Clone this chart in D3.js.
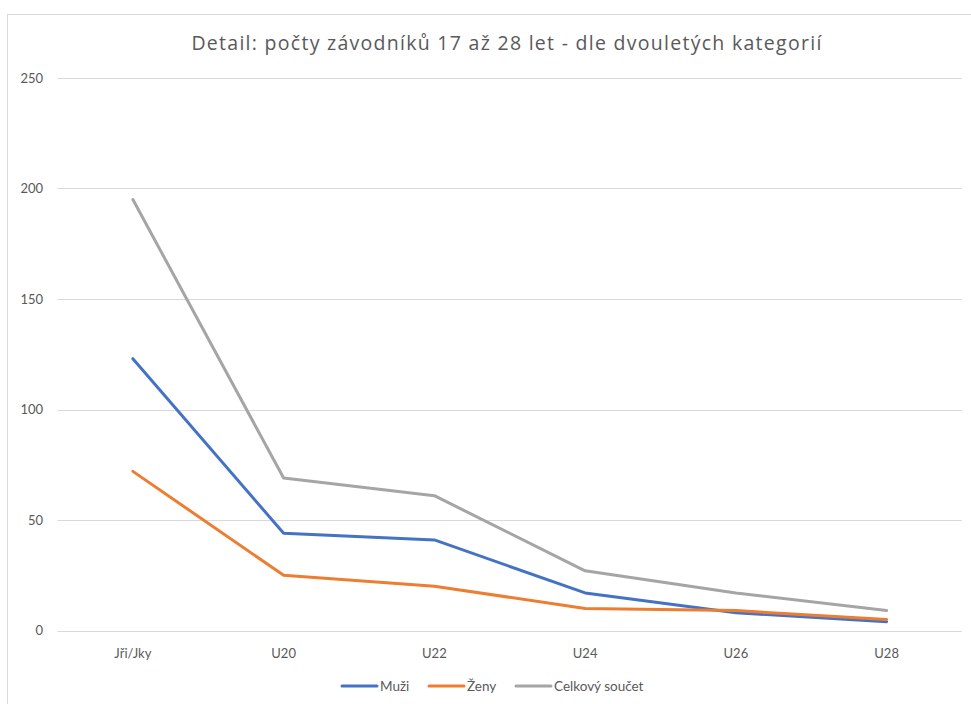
<!DOCTYPE html>
<html>
<head>
<meta charset="utf-8">
<script src="https://cdn.jsdelivr.net/npm/d3@7"></script>
<style>
  body { margin: 0; background: #fff; }
  svg { display: block; font-family: Lato, "Open Sans", "Liberation Sans", sans-serif; }
</style>
</head>
<body>
<svg id="chart" width="971" height="704"></svg>
<script>
// data
var categories = ["Jři/Jky", "U20", "U22", "U24", "U26", "U28"];
var muzi = [123, 44, 41, 17, 8, 4];
var zeny = [72, 25, 20, 10, 9, 5];
var celkem = [195, 69, 61, 27, 17, 9];
var yTicks = [0, 50, 100, 150, 200, 250];

var series = [
  { name: "Muži", values: muzi, color: "#4472C4" },
  { name: "Ženy", values: zeny, color: "#ED7D31" },
  { name: "Celkový součet", values: celkem, color: "#A5A5A5" }
];

var svg = d3.select("#chart");
var textColor = "#595959";

// chart border (runs off the right/bottom edge like in the original)
svg.append("rect")
    .attr("x", 7.5).attr("y", 14.5)
    .attr("width", 1100).attr("height", 800)
    .attr("fill", "none")
    .attr("stroke", "#d9d9d9");

var plot = { left: 57.5, right: 962, top: 78, bottom: 630.5 };

var x = d3.scaleBand()
    .domain(categories)
    .range([plot.left, plot.right]);

var y = d3.scaleLinear()
    .domain([0, 250])
    .range([plot.bottom, plot.top]);

// gridlines
svg.append("g")
  .selectAll("line")
  .data(yTicks)
  .enter().append("line")
    .attr("x1", plot.left).attr("x2", plot.right)
    .attr("y1", function(d) { return Math.round(y(d)) + 0.5; })
    .attr("y2", function(d) { return Math.round(y(d)) + 0.5; })
    .attr("stroke", "#d9d9d9")
    .attr("stroke-width", 1);

// y axis labels
svg.append("g")
  .selectAll("text")
  .data(yTicks)
  .enter().append("text")
    .attr("x", 43)
    .attr("y", function(d) { return y(d); })
    .attr("dy", "0.35em")
    .attr("text-anchor", "end")
    .attr("font-size", 13)
    .attr("fill", textColor)
    .text(function(d) { return d; });

// x axis labels
svg.append("g")
  .selectAll("text")
  .data(categories)
  .enter().append("text")
    .attr("x", function(d) { return x(d) + x.bandwidth() / 2; })
    .attr("y", 653)
    .attr("dy", "0.35em")
    .attr("text-anchor", "middle")
    .attr("font-size", 13)
    .attr("fill", textColor)
    .text(function(d) { return d; });

// lines
var line = d3.line()
    .x(function(d, i) { return x(categories[i]) + x.bandwidth() / 2; })
    .y(function(d) { return y(d); });

svg.append("g")
  .selectAll("path")
  .data(series)
  .enter().append("path")
    .attr("d", function(s) { return line(s.values); })
    .attr("fill", "none")
    .attr("stroke", function(s) { return s.color; })
    .attr("stroke-width", 3)
    .attr("stroke-linejoin", "round")
    .attr("stroke-linecap", "round");

// title - small letter spacing so it spans like the original
var titleText = "Detail: počty závodníků 17 až 28 let - dle dvouletých kategorií";
var title = svg.append("text")
    .attr("x", 507)
    .attr("y", 43)
    .attr("dy", "0.35em")
    .attr("text-anchor", "middle")
    .attr("font-family", "'Open Sans', Lato, sans-serif")
    .attr("font-size", 19.5)
    .attr("fill", textColor)
    .text(titleText);
var tw = title.node().getComputedTextLength();
var ls = (631 - tw) / titleText.length;
if (ls > 0) title.attr("letter-spacing", ls.toFixed(2));

// legend
var legendPos = [342, 429, 516];
var legend = svg.append("g")
  .selectAll("g")
  .data(series)
  .enter().append("g")
    .attr("transform", function(d, i) { return "translate(" + legendPos[i] + ",686)"; });

legend.append("line")
    .attr("x1", 0).attr("x2", 35)
    .attr("stroke", function(d) { return d.color; })
    .attr("stroke-width", 3)
    .attr("stroke-linecap", "round");

legend.append("text")
    .attr("x", 38)
    .attr("dy", "0.35em")
    .attr("font-size", 13.5)
    .attr("fill", textColor)
    .text(function(d) { return d.name; });
</script>
</body>
</html>
